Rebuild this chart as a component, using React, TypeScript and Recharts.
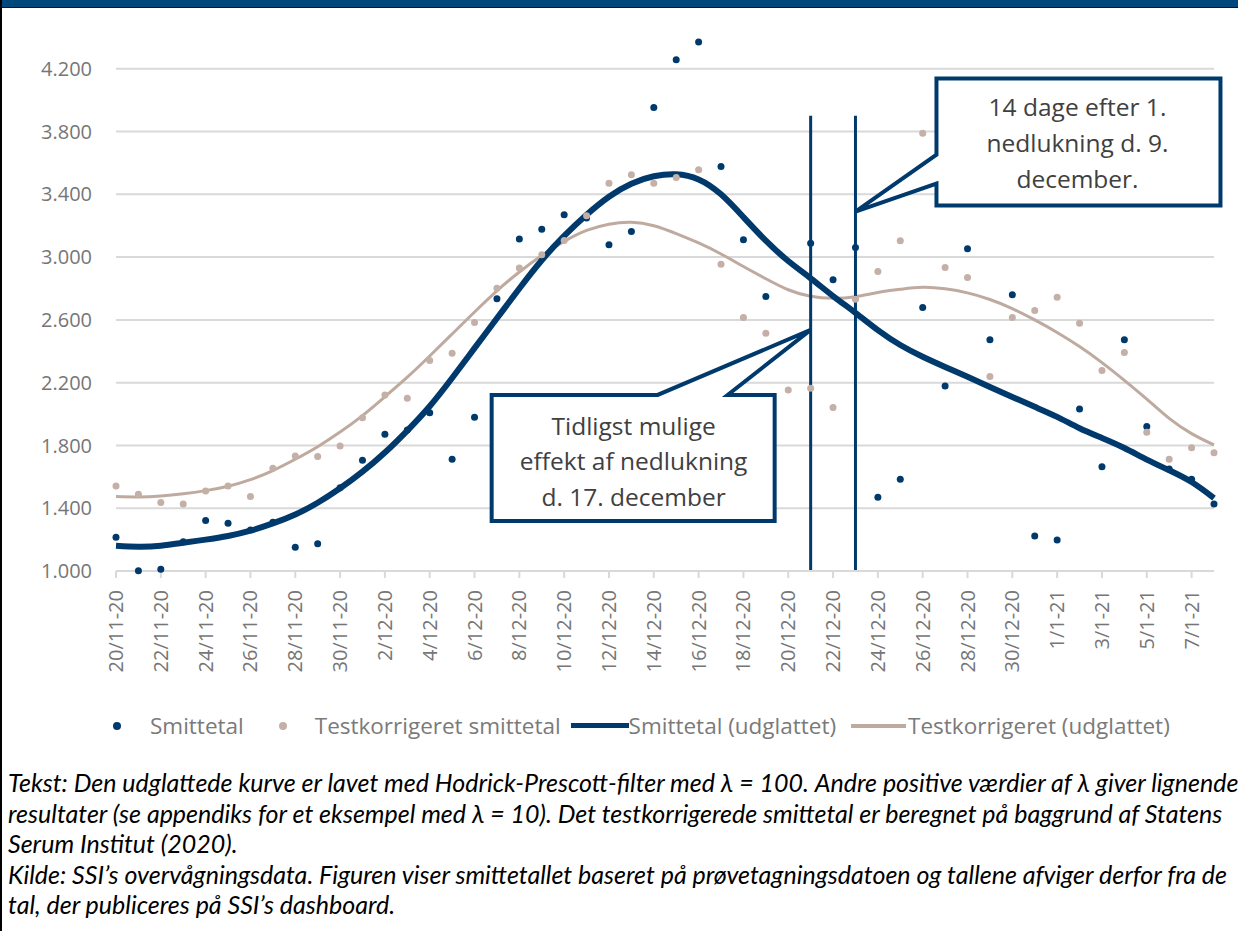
import React from "react";
import {
  LineChart,
  Line,
  XAxis,
  YAxis,
  CartesianGrid,
  ReferenceLine,
  ReferenceDot,
} from "recharts";

// dagsdatoer 20/11-20 .. 8/1-21
const dates = [
  "20/11-20", "21/11-20", "22/11-20", "23/11-20", "24/11-20", "25/11-20", "26/11-20", "27/11-20", "28/11-20", "29/11-20", "30/11-20",
  "1/12-20", "2/12-20", "3/12-20", "4/12-20", "5/12-20", "6/12-20", "7/12-20", "8/12-20", "9/12-20", "10/12-20",
  "11/12-20", "12/12-20", "13/12-20", "14/12-20", "15/12-20", "16/12-20", "17/12-20", "18/12-20", "19/12-20", "20/12-20",
  "21/12-20", "22/12-20", "23/12-20", "24/12-20", "25/12-20", "26/12-20", "27/12-20", "28/12-20", "29/12-20", "30/12-20",
  "31/12-20", "1/1-21", "2/1-21", "3/1-21", "4/1-21", "5/1-21", "6/1-21", "7/1-21", "8/1-21",
];

const smittetal = [
  1215, 1002, 1011, 1187, 1321, 1304, 1261, 1310, 1151, 1174,
  1530, 1706, 1871, 1899, 2009, 1712, 1980, 2734, 3115, 3178,
  3270, 3250, 3078, 3163, 3953, 4258, 4370, 3577, 3110, 2749,
  2441, 3089, 2855, 3061, 1470, 1585, 2679, 2179, 3053, 2473,
  2760, 1223, 1198, 2033, 1665, 2473, 1920, 1650, 1585, 1427,
];

const testkorrigeret = [
  1542, 1489, 1436, 1427, 1510, 1542, 1474, 1655, 1733, 1729,
  1797, 1977, 2122, 2101, 2341, 2388, 2583, 2802, 2930, 3015,
  3106, 3263, 3471, 3525, 3471, 3507, 3556, 2955, 2615, 2515,
  2154, 2165, 2041, 2732, 2908, 3104, 3790, 2934, 2870, 2239,
  2615, 2660, 2745, 2579, 2277, 2392, 1884, 1712, 1786, 1754,
];

const smittetalUdglattet = [
  1161, 1155, 1161, 1180, 1200, 1223, 1257, 1303, 1360, 1435,
  1527, 1633, 1755, 1895, 2050, 2230, 2420, 2610, 2800, 2980,
  3135, 3270, 3385, 3468, 3515, 3528, 3495, 3400, 3255, 3105,
  2975, 2865, 2752, 2645, 2535, 2440, 2365, 2300, 2237, 2173,
  2109, 2046, 1982, 1910, 1848, 1784, 1710, 1642, 1567, 1465,
];

const testkorrigeretUdglattet = [
  1474, 1472, 1478, 1492, 1512, 1540, 1582, 1640, 1712, 1792,
  1885, 1990, 2110, 2235, 2370, 2510, 2650, 2785, 2905, 3010,
  3100, 3170, 3210, 3222, 3200, 3150, 3090, 3020, 2940, 2862,
  2792, 2750, 2738, 2748, 2775, 2795, 2808, 2798, 2772, 2730,
  2672, 2600, 2520, 2430, 2328, 2215, 2095, 1972, 1875, 1803,
];

const yTicks = [1000, 1400, 1800, 2200, 2600, 3000, 3400, 3800, 4200];

const noter = [
  "Tekst: Den udglattede kurve er lavet med Hodrick-Prescott-filter med λ = 100. Andre positive værdier af λ giver lignende",
  "resultater (se appendiks for et eksempel med λ = 10). Det testkorrigerede smittetal er beregnet på baggrund af Statens",
  "Serum Institut (2020).",
  "Kilde: SSI’s overvågningsdata. Figuren viser smittetallet baseret på prøvetagningsdatoen og tallene afviger derfor fra de",
  "tal, der publiceres på SSI’s dashboard.",
];

const NAVY = "#003a6c";
const TAN = "#c4b0a6";
const TAN_LINE = "#bfaa9f";
const GRID = "#d9d9d9";
const AXIS_TEXT = "#767676";
const FONT = "'Open Sans', 'Noto Sans', sans-serif";

const data = dates.map((date, i) => ({
  date,
  smittetal: smittetal[i],
  testkorrigeret: testkorrigeret[i],
  smittetalUdglattet: smittetalUdglattet[i],
  testkorrigeretUdglattet: testkorrigeretUdglattet[i],
}));

const fmt = (v: number) =>
  `${Math.floor(v / 1000)}.${String(v % 1000).padStart(3, "0")}`;

const XTick = (props: any) => {
  const { x, y, payload } = props;
  return (
    <g transform={`translate(${x},${y + 10}) rotate(-90)`}>
      <text
        textAnchor="end"
        dy="0.35em"
        fill={AXIS_TEXT}
        fontSize={20}
        fontFamily={FONT}
      >
        {payload.value}
      </text>
    </g>
  );
};

// boks med pil ned mod venstre (14 dage efter ...)
const CalloutRight = (props: any) => {
  const { cx, cy } = props;
  const l = cx + 81, r = cx + 365, t = cy - 133, b = cy - 6;
  const d = `M${cx},${cy} L${l},${cy - 57} L${l},${t} L${r},${t} L${r},${b} L${l},${b} L${l},${cy - 28} Z`;
  const lines = ["14 dage efter 1.", "nedlukning d. 9.", "december."];
  return (
    <g>
      <path d={d} fill="#fff" stroke={NAVY} strokeWidth={4} strokeLinejoin="miter" />
      {lines.map((s, i) => (
        <text key={i} x={cx + 222} y={cy - 104 + i * 36} textAnchor="middle" dy="0.35em"
          fill="#404040" fontSize={24.5} fontFamily={FONT}>
          {s}
        </text>
      ))}
    </g>
  );
};

// boks under med pil op mod højre (Tidligst mulige effekt ...)
const CalloutLeft = (props: any) => {
  const { cx, cy } = props;
  const l = cx - 319, r = cx - 36, t = cy + 65, b = cy + 191;
  const d = `M${cx},${cy} L${cx - 83},${t} L${r},${t} L${r},${b} L${l},${b} L${l},${t} L${cx - 153},${t} Z`;
  const lines = ["Tidligst mulige", "effekt af nedlukning", "d. 17. december"];
  return (
    <g>
      <path d={d} fill="#fff" stroke={NAVY} strokeWidth={4} strokeLinejoin="miter" />
      {lines.map((s, i) => (
        <text key={i} x={cx - 177} y={cy + 96 + i * 35.5} textAnchor="middle" dy="0.35em"
          fill="#404040" fontSize={24.5} fontFamily={FONT}>
          {s}
        </text>
      ))}
    </g>
  );
};

const Legend = () => (
  <div
    style={{
      position: "absolute",
      top: 710,
      left: 113,
      display: "flex",
      alignItems: "center",
      fontFamily: FONT,
      fontSize: 22.5,
      color: "#7a7a7a",
      whiteSpace: "nowrap",
    }}
  >
    <span style={{ width: 8, height: 8, borderRadius: 4, background: NAVY, marginRight: 29 }} />
    <span style={{ marginRight: 35 }}>Smittetal</span>
    <span style={{ width: 8, height: 8, borderRadius: 4, background: TAN, marginRight: 28 }} />
    <span style={{ marginRight: 10 }}>Testkorrigeret smittetal</span>
    <span style={{ width: 58, height: 5, background: NAVY }} />
    <span style={{ marginRight: 15 }}>Smittetal (udglattet)</span>
    <span style={{ width: 55, height: 4, background: TAN_LINE, marginRight: 2 }} />
    <span>Testkorrigeret (udglattet)</span>
  </div>
);

export default function App() {
  return (
    <div
      style={{
        position: "absolute",
        left: 0,
        top: 0,
        width: 1245,
        height: 931,
        background: "#fff",
        overflow: "hidden",
      }}
    >
      <style>{`body{margin:0}`}</style>
      <LineChart
        width={1245}
        height={680}
        data={data}
        margin={{ top: 6, right: 31, bottom: 0, left: 0 }}
      >
        <CartesianGrid vertical={false} stroke={GRID} strokeWidth={2} />
        <XAxis
          dataKey="date"
          interval={1}
          height={109}
          tickSize={7}
          tick={<XTick />}
          axisLine={{ stroke: GRID, strokeWidth: 2 }}
          tickLine={{ stroke: GRID, strokeWidth: 2 }}
        />
        <YAxis
          width={116}
          domain={[1000, 4600]}
          ticks={yTicks}
          tickFormatter={fmt}
          axisLine={false}
          tickLine={false}
          tickMargin={18}
          tick={{ fill: AXIS_TEXT, fontSize: 20, fontFamily: FONT }}
        />
        <Line
          dataKey="testkorrigeretUdglattet"
          type="natural"
          stroke={TAN_LINE}
          strokeWidth={3}
          dot={false}
          activeDot={false}
          isAnimationActive={false}
        />
        <Line
          dataKey="smittetalUdglattet"
          type="natural"
          stroke={NAVY}
          strokeWidth={6}
          dot={false}
          activeDot={false}
          isAnimationActive={false}
        />
        <Line
          dataKey="smittetal"
          stroke="none"
          dot={{ r: 3.5, fill: NAVY, stroke: "none" }}
          activeDot={false}
          isAnimationActive={false}
        />
        <Line
          dataKey="testkorrigeret"
          stroke="none"
          dot={{ r: 3.5, fill: TAN, stroke: "none" }}
          activeDot={false}
          isAnimationActive={false}
        />
        <ReferenceLine
          segment={[{ x: "21/12-20", y: 1000 }, { x: "21/12-20", y: 3900 }]}
          stroke={NAVY}
          strokeWidth={3}
        />
        <ReferenceLine
          segment={[{ x: "23/12-20", y: 1000 }, { x: "23/12-20", y: 3900 }]}
          stroke={NAVY}
          strokeWidth={3}
        />
        <ReferenceDot x="21/12-20" y={2536} shape={(p: any) => <CalloutLeft {...p} />} />
        <ReferenceDot x="23/12-20" y={3290} shape={(p: any) => <CalloutRight {...p} />} />
      </LineChart>
      <Legend />
      <div
        style={{
          position: "absolute",
          top: 767,
          left: 8,
          fontFamily: "Lato, sans-serif",
          fontStyle: "italic",
          fontSize: 25,
          lineHeight: "30.5px",
          color: "#000",
          whiteSpace: "nowrap",
        }}
      >
        {noter.map((s, i) => (
          <div key={i}>{s}</div>
        ))}
      </div>
      <div style={{ position: "absolute", left: 0, top: 0, width: 1238, height: 7, background: "#02477c", borderBottom: "1px solid #111" }} />
      <div style={{ position: "absolute", left: 0, top: 0, width: 2, height: 931, background: "#000" }} />
    </div>
  );
}
